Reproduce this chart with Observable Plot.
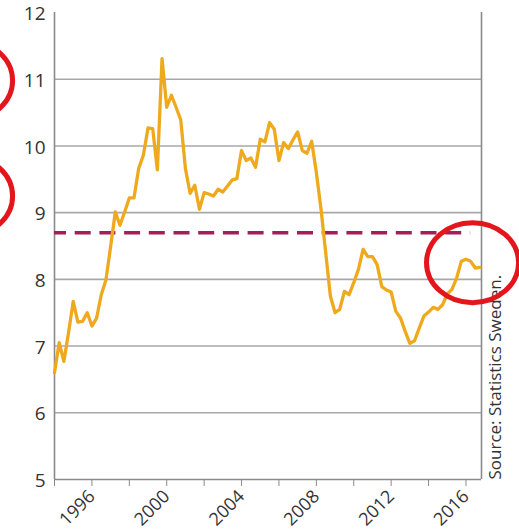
<!DOCTYPE html>
<html><head><meta charset="utf-8">
<script src="https://cdn.jsdelivr.net/npm/d3@7"></script>
<script src="https://cdn.jsdelivr.net/npm/@observablehq/plot@0.6"></script>
<style>
body{margin:0;background:#fff;}
#chart{width:519px;height:531px;overflow:hidden;}
</style></head><body><div id="chart"></div>
<script>
const startYear = 1994;
const quarterValues = [
  6.60, 7.05, 6.77, 7.20, 7.67, 7.36, 7.37, 7.50, 7.30, 7.42,
  7.77, 7.99, 8.49, 9.01, 8.81, 9.01, 9.22, 9.22, 9.66, 9.86,
  10.27, 10.26, 9.64, 11.31, 10.58, 10.76, 10.58, 10.39, 9.66, 9.29,
  9.41, 9.05, 9.30, 9.28, 9.25, 9.35, 9.31, 9.40, 9.49, 9.51,
  9.93, 9.78, 9.82, 9.68, 10.10, 10.06, 10.35, 10.25, 9.78, 10.05,
  9.96, 10.09, 10.21, 9.93, 9.89, 10.07, 9.60, 9.05, 8.40, 7.75,
  7.50, 7.55, 7.82, 7.77, 7.95, 8.15, 8.45, 8.34, 8.34, 8.22,
  7.89, 7.84, 7.81, 7.52, 7.42, 7.22, 7.04, 7.08, 7.27, 7.45,
  7.51, 7.58, 7.55, 7.62, 7.78, 7.85, 8.02, 8.27, 8.30, 8.27,
  8.17, 8.18
];
const yTicks = [5, 6, 7, 8, 9, 10, 11, 12];
const gridValues = [6, 7, 8, 9, 10, 11];
const xTicks = [1994, 1996, 1998, 2000, 2002, 2004, 2006, 2008, 2010, 2012, 2014, 2016];
const xLabelYears = [1996, 2000, 2004, 2008, 2012, 2016];
const xDomain = [1994, 2016.83];
const yDomain = [5, 12];
const averageValue = 8.7;
const averageSpan = [1994, 2016.25];
const highlightX = [1989.3, 1989.3, 2016.35];
const highlightY = [10.98, 9.25, 8.25];
const sourceText = "Source: Statistics Sweden.";

const series = quarterValues.map((v, i) => ({year: startYear + i / 4, value: v}));
const highlights = highlightX.map((x, i) => ({x, y: highlightY[i]}));

const ellipseSymbol = {
  draw(context, size) {
    const r = Math.sqrt(size / Math.PI);
    const rx = r * 1.15, ry = r, k = 0.5523;
    context.moveTo(rx, 0);
    context.bezierCurveTo(rx, ry * k, rx * k, ry, 0, ry);
    context.bezierCurveTo(-rx * k, ry, -rx, ry * k, -rx, 0);
    context.bezierCurveTo(-rx, -ry * k, -rx * k, -ry, 0, -ry);
    context.bezierCurveTo(rx * k, -ry, rx, -ry * k, rx, 0);
    context.closePath();
  }
};

const axisGray = "#8a8a8a";
const chart = Plot.plot({
  width: 519,
  height: 531,
  marginLeft: 54,
  marginRight: 38,
  marginTop: 12,
  marginBottom: 52,
  style: {fontFamily: "'Open Sans', sans-serif", color: "#333", background: "#fff", overflow: "visible"},
  x: {domain: xDomain},
  y: {domain: yDomain},
  marks: [
    Plot.gridY(gridValues, {stroke: "#a8a8a8", strokeOpacity: 1, strokeWidth: 1.6}),
    Plot.ruleY([yDomain[0]], {stroke: axisGray, strokeWidth: 1.6}),
    Plot.ruleX([xDomain[0], xDomain[1]], {stroke: axisGray, strokeWidth: 1.6}),
    Plot.axisY(yTicks, {tickSize: 0, tickPadding: 9, fontSize: 19, dy: 1.5, fill: "#333", tickFormat: d => String(d)}),
    Plot.axisX(xTicks, {tickSize: 7, tickPadding: 7, tickRotate: -45, fontSize: 18, stroke: axisGray, fill: "#333",
      tickFormat: d => xLabelYears.includes(d) ? String(d) : ""}),
    Plot.ruleY([averageValue], {x1: averageSpan[0], x2: averageSpan[1], stroke: "#a61e57", strokeWidth: 3.5,
      strokeDasharray: "16,8.7", strokeDashoffset: 4}),
    Plot.line(series, {x: "year", y: "value", stroke: "#efa91c", strokeWidth: 3.3}),
    Plot.text([sourceText], {frameAnchor: "bottom-right", dx: 19, rotate: -90, textAnchor: "start",
      fontSize: 17, fill: "#333", text: d => d}),
    Plot.dot(highlights, {x: "x", y: "y", r: 40, symbol: ellipseSymbol, fill: "none", stroke: "#e3161d", strokeWidth: 5})
  ]
});
document.getElementById("chart").appendChild(chart);
</script>
</body></html>
